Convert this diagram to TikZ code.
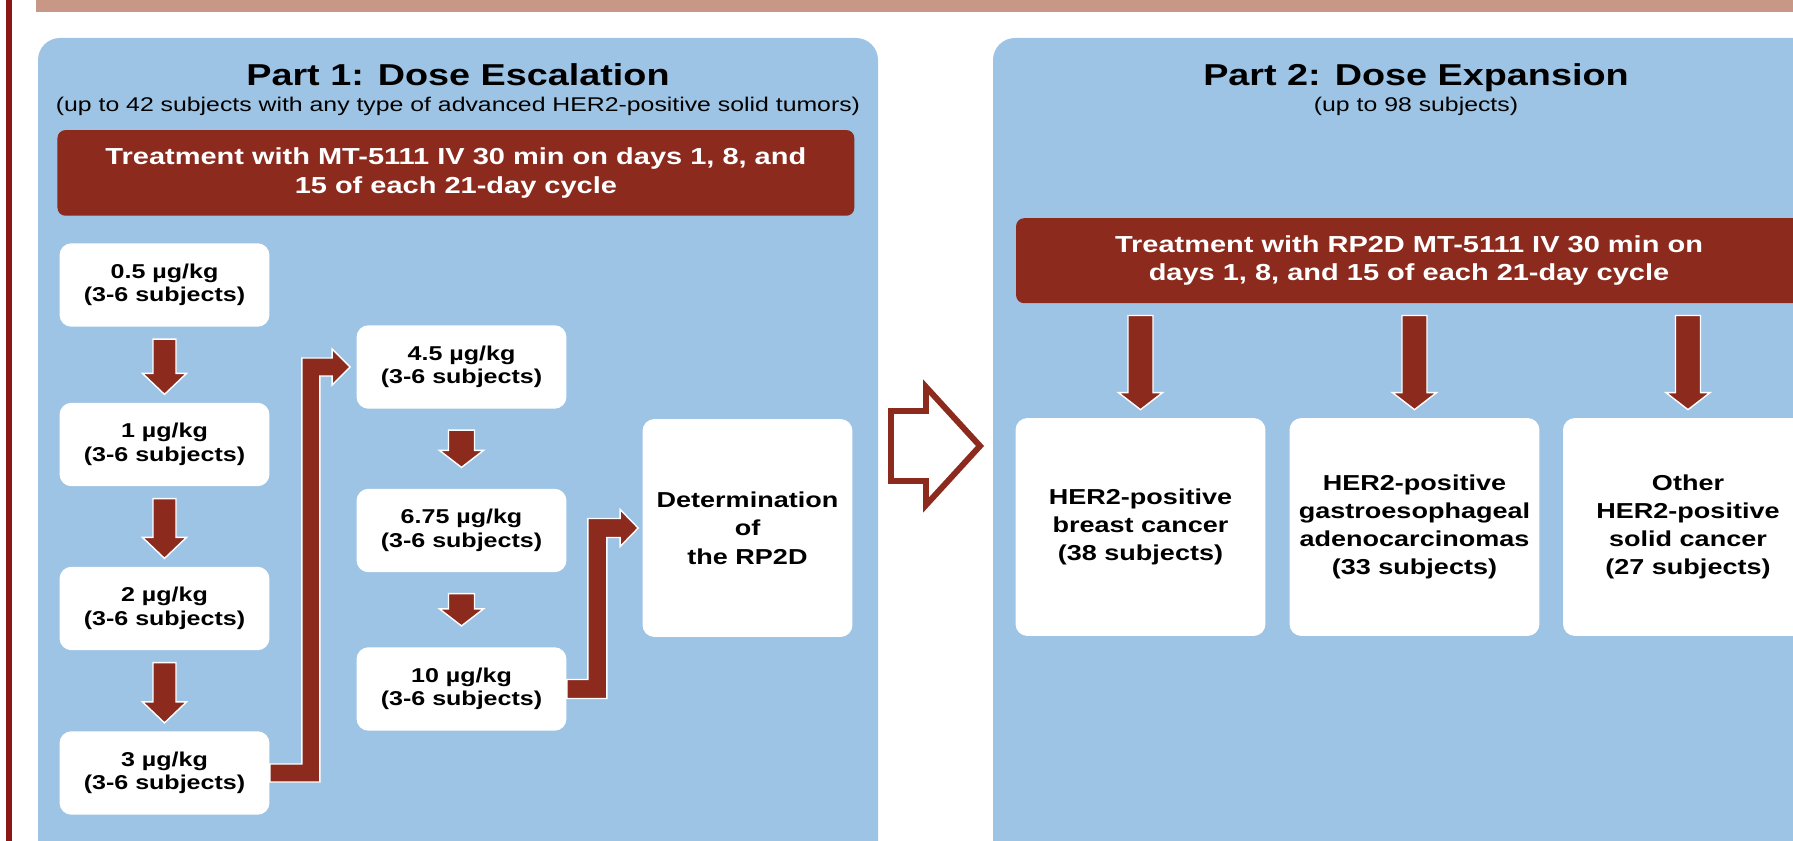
\documentclass[tikz,border=0pt]{standalone}
\usepackage{fontspec}
\setmainfont{Liberation Sans}[FakeStretch=1.25]
\usetikzlibrary{calc}

\definecolor{panelblue}{RGB}{157,196,228}
\definecolor{barred}{RGB}{140,42,30}
\definecolor{bannertan}{RGB}{201,151,133}
\definecolor{edgered}{RGB}{139,22,22}

\tikzset{
  panel/.style={fill=panelblue, rounded corners=0.44cm},
  headline/.style={anchor=base, font=\fontsize{17.2}{20}\selectfont\bfseries},
  subline/.style={anchor=base, font=\fontsize{11.3}{14}\selectfont},
  treatbar/.style={fill=barred, rounded corners=0.16cm, text=white, align=center, inner sep=0pt, font=\fontsize{13.2}{16.2}\selectfont\bfseries},
  dosebox/.style={fill=white, rounded corners=0.24cm, minimum width=4.2cm, minimum height=1.67cm, align=center, inner sep=0pt, font=\fontsize{11.4}{13.3}\selectfont\bfseries},
  cohortbox/.style={fill=white, rounded corners=0.24cm, minimum width=5cm, minimum height=4.36cm, align=center, inner sep=0pt, font=\fontsize{12.3}{15.9}\selectfont\bfseries},
  blockarr/.style={fill=barred, draw=white, line width=0.8pt},
  hollowarr/.style={draw=barred, fill=white, line width=3.4pt, line join=miter}
}

\begin{document}
\begin{tikzpicture}[x=0.02cm, y=-0.02cm]
\useasboundingbox (0,0) rectangle (1793,841);
\clip (0,0) rectangle (1793,841);
% frame
\fill [bannertan] (36,0) rectangle (1793,12);
\fill [edgered] (6,0) rectangle (12,841);
\fill [panel] (38,38) rectangle (878,920);
\fill [panel] (993,38) rectangle (1839,920);

% part 1
\node [headline] (title1) at (458,85.5) {Part 1: Dose Escalation};
\node [subline] (sub1) at (458,111.7) {(up to 42 subjects with any type of advanced HER2-positive solid tumors)};
\node [treatbar, minimum width=15.94cm, minimum height=1.714cm] (tx1) at (455.9,172.9) {Treatment with MT-5111 IV 30 min on days 1, 8, and\\15 of each 21-day cycle};
\node [dosebox] (b05) at (164.5,285) {0.5 µg/kg\\(3-6 subjects)};
\node [dosebox] (b1) at (164.5,444.5) {1 µg/kg\\(3-6 subjects)};
\node [dosebox] (b2) at (164.5,608.5) {2 µg/kg\\(3-6 subjects)};
\node [dosebox] (b3) at (164.5,773) {3 µg/kg\\(3-6 subjects)};
\node [dosebox] (b45) at (461.5,367) {4.5 µg/kg\\(3-6 subjects)};
\node [dosebox] (b675) at (461.5,530.5) {6.75 µg/kg\\(3-6 subjects)};
\node [dosebox] (b10) at (461.5,689) {10 µg/kg\\(3-6 subjects)};
\node [dosebox, minimum height=4.36cm, font=\fontsize{12.3}{16.1}\selectfont\bfseries] (det) at (747.5,528) {Determination\\of\\the RP2D};

\filldraw [blockarr] ($(b05.south)+(-11.5,12)$) -- ($(b05.south)+(11.5,12)$) -- ($(b1.north)+(11.5,-29)$) -- ($(b1.north)+(22,-29)$) -- ($(b1.north)+(0,-8)$) -- ($(b1.north)+(-22,-29)$) -- ($(b1.north)+(-11.5,-29)$) -- cycle;
\filldraw [blockarr] ($(b1.south)+(-11.5,12)$) -- ($(b1.south)+(11.5,12)$) -- ($(b2.north)+(11.5,-29)$) -- ($(b2.north)+(22,-29)$) -- ($(b2.north)+(0,-8)$) -- ($(b2.north)+(-22,-29)$) -- ($(b2.north)+(-11.5,-29)$) -- cycle;
\filldraw [blockarr] ($(b2.south)+(-11.5,12)$) -- ($(b2.south)+(11.5,12)$) -- ($(b3.north)+(11.5,-29)$) -- ($(b3.north)+(22,-29)$) -- ($(b3.north)+(0,-8)$) -- ($(b3.north)+(-22,-29)$) -- ($(b3.north)+(-11.5,-29)$) -- cycle;
\filldraw [blockarr] ($(b45.south)+(-13,21)$) -- ($(b45.south)+(13,21)$) -- ($(b675.north)+(13,-38)$) -- ($(b675.north)+(22,-38)$) -- ($(b675.north)+(0,-21)$) -- ($(b675.north)+(-22,-38)$) -- ($(b675.north)+(-13,-38)$) -- cycle;
\filldraw [blockarr] ($(b675.south)+(-13,21)$) -- ($(b675.south)+(13,21)$) -- ($(b10.north)+(13,-38)$) -- ($(b10.north)+(22,-38)$) -- ($(b10.north)+(0,-21)$) -- ($(b10.north)+(-22,-38)$) -- ($(b10.north)+(-13,-38)$) -- cycle;
\filldraw [blockarr] ($(b3.east)+(0,-9)$) -- ($(b3.east)+(32,-9)$) |- ($(b45.west)+(-24,-9)$) -- ++(0,-9) -- ($(b45.west)+(-6,0)$) -- ($(b45.west)+(-24,18)$) -- ++(0,-9) -| ($(b3.east)+(50,9)$) -- ($(b3.east)+(0,9)$) -- cycle;
\filldraw [blockarr] ($(b10.east)+(0,-9.5)$) -- ($(b10.east)+(21,-9.5)$) |- ($(det.west)+(-22,-9.5)$) -- ++(0,-9) -- ($(det.west)+(-4,0)$) -- ($(det.west)+(-22,18.5)$) -- ++(0,-9) -| ($(b10.east)+(40,9.5)$) -- ($(b10.east)+(0,9.5)$) -- cycle;

% between the parts
\coordinate (gotail) at (891,446);
\coordinate (gotip) at (980,446);
\draw [hollowarr] ($(gotail)+(0,-35)$) -- ($(gotip)+(-54,-35)$) -- ($(gotip)+(-54,-59)$) -- (gotip) -- ($(gotip)+(-54,59)$) -- ($(gotip)+(-54,35)$) -- ($(gotail)+(0,35)$) -- cycle;

% part 2
\node [headline] (title2) at (1416,85.5) {Part 2: Dose Expansion};
\node [subline] (sub2) at (1416,111.7) {(up to 98 subjects)};
\node [treatbar, minimum width=15.72cm, minimum height=1.70cm] (tx2) at (1409,260.7) {Treatment with RP2D MT-5111 IV 30 min on\\days 1, 8, and 15 of each 21-day cycle};
\node [cohortbox] (brA) at (1140.5,527) {HER2-positive\\breast cancer\\(38 subjects)};
\node [cohortbox] (brB) at (1414.5,527) {HER2-positive\\gastroesophageal\\adenocarcinomas\\(33 subjects)};
\node [cohortbox] (brC) at (1688,527) {Other\\HER2-positive\\solid cancer\\(27 subjects)};

\filldraw [blockarr] ($(tx2.south -| brA.north)+(-12.5,12)$) -- ($(tx2.south -| brA.north)+(12.5,12)$) -- ($(brA.north)+(12.5,-25)$) -- ($(brA.north)+(22,-25)$) -- ($(brA.north)+(0,-8)$) -- ($(brA.north)+(-22,-25)$) -- ($(brA.north)+(-12.5,-25)$) -- cycle;
\filldraw [blockarr] ($(tx2.south -| brB.north)+(-12.5,12)$) -- ($(tx2.south -| brB.north)+(12.5,12)$) -- ($(brB.north)+(12.5,-25)$) -- ($(brB.north)+(22,-25)$) -- ($(brB.north)+(0,-8)$) -- ($(brB.north)+(-22,-25)$) -- ($(brB.north)+(-12.5,-25)$) -- cycle;
\filldraw [blockarr] ($(tx2.south -| brC.north)+(-12.5,12)$) -- ($(tx2.south -| brC.north)+(12.5,12)$) -- ($(brC.north)+(12.5,-25)$) -- ($(brC.north)+(22,-25)$) -- ($(brC.north)+(0,-8)$) -- ($(brC.north)+(-22,-25)$) -- ($(brC.north)+(-12.5,-25)$) -- cycle;
\end{tikzpicture}
\end{document}
